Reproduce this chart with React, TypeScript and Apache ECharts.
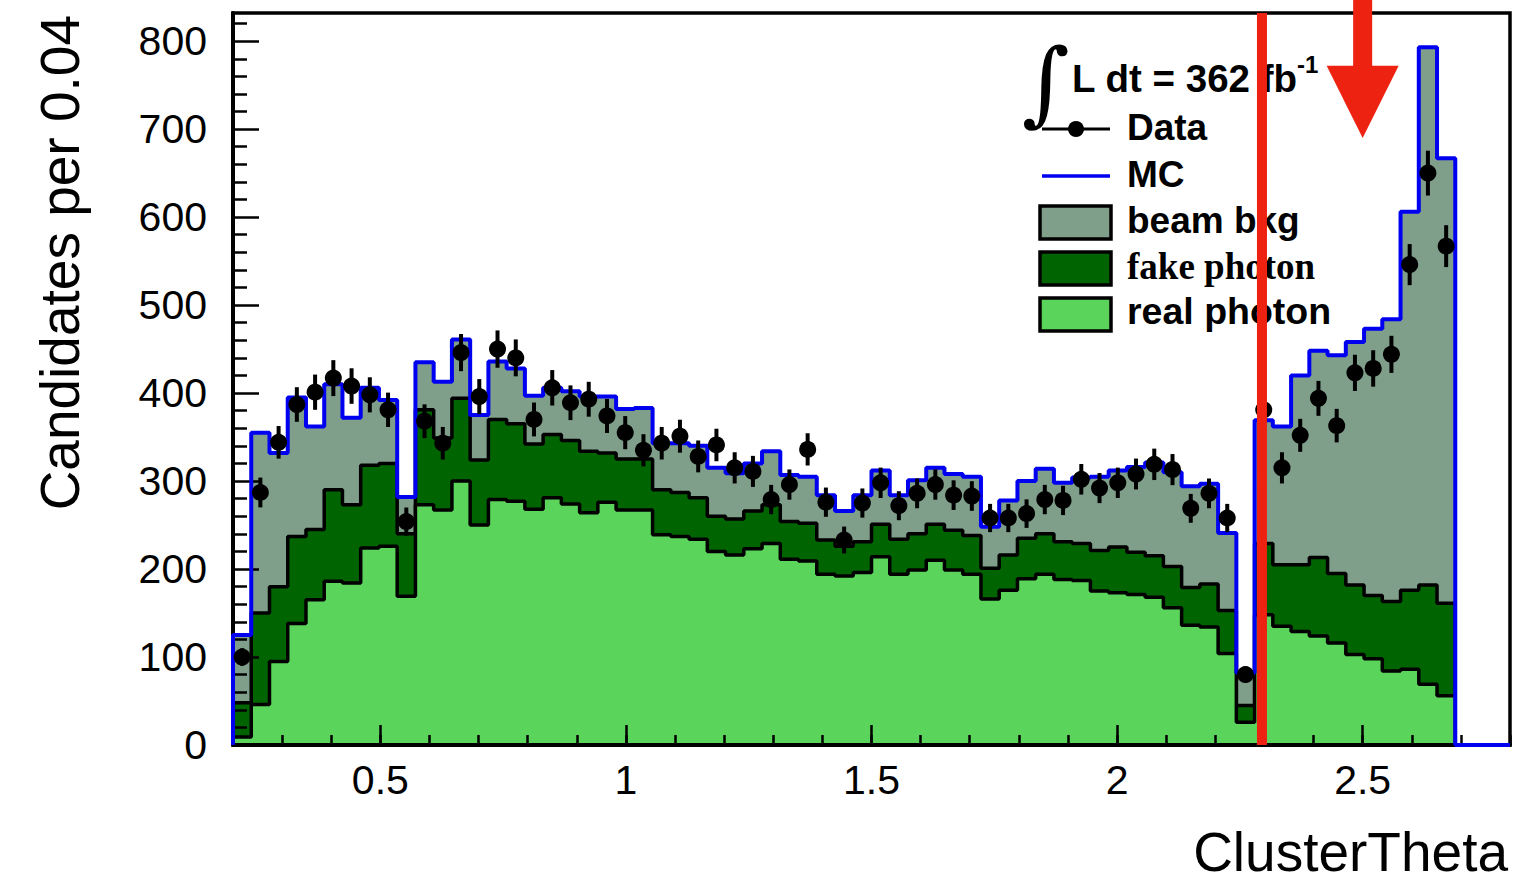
import React, { useEffect, useRef } from "react";
import * as echarts from "echarts";

// ---- histogram binning ----
const X_MIN = 0.2;
const X_MAX = 2.8;
const Y_MIN = 0;
const Y_MAX = 832;

// ---- MC components per bin (70 bins of 0.2..2.8) ----
const realPhoton = [
  9, 46, 95, 138, 165, 186, 184, 224, 226, 169,
  273, 267, 300, 250, 279, 277, 268, 281, 274, 264,
  276, 267, 267, 239, 237, 234, 220, 216, 223, 229,
  211, 209, 194, 192, 196, 214, 194, 199, 210, 199,
  194, 166, 176, 189, 194, 188, 187, 175, 173, 171,
  168, 156, 136, 134, 104, 26, 148, 135, 129, 124,
  116, 103, 98, 84, 86, 69, 56, 0, 0, 0,
];
const fakePhoton = [
  39, 104, 85, 99, 80, 104, 89, 94, 94, 71,
  108, 82, 94, 74, 91, 88, 74, 72, 72, 70,
  56, 58, 58, 51, 50, 47, 40, 41, 43, 44,
  43, 43, 39, 34, 35, 37, 40, 41, 41, 45,
  44, 35, 40, 46, 46, 43, 42, 46, 52, 48,
  47, 47, 43, 49, 49, 19, 81, 70, 76, 89,
  79, 79, 72, 79, 90, 113, 105, 0, 0, 0,
];
const beamBkg = [
  77, 205, 152, 158, 117, 120, 99, 88, 72, 42,
  54, 64, 67, 51, 66, 63, 55, 53, 56, 62,
  64, 57, 58, 53, 56, 59, 55, 52, 54, 61,
  53, 53, 51, 40, 53, 61, 50, 61, 64, 64,
  67, 47, 62, 65, 74, 67, 75, 84, 87, 97,
  106, 107, 115, 114, 88, 37, 140, 157, 215, 235,
  248, 276, 303, 321, 430, 611, 506, 0, 0, 0,
];
// ---- data counts (first 67 bins) ----
const dataCounts = [
  100, 287, 344, 387, 401, 417, 408, 398, 381, 254,
  368, 343, 446, 396, 450, 440, 370, 406, 389, 393,
  374, 355, 335, 343, 351, 328, 341, 315, 311, 279,
  296, 336, 276, 233, 275, 298, 272, 286, 296, 284,
  283, 258, 258, 263, 279, 278, 302, 292, 298, 308,
  319, 313, 269, 286, 258, 80, 381, 315, 352, 394,
  363, 423, 428, 444, 546, 650, 567,
];

// ---- ticks ----
const xMajorTicks = [0.5, 1, 1.5, 2, 2.5];
const xMinorTicks = [
  0.3, 0.4, 0.5, 0.6, 0.7, 0.8, 0.9, 1.0, 1.1, 1.2, 1.3, 1.4, 1.5,
  1.6, 1.7, 1.8, 1.9, 2.0, 2.1, 2.2, 2.3, 2.4, 2.5, 2.6, 2.7, 2.8,
];
const yMajorTicks = [0, 100, 200, 300, 400, 500, 600, 700, 800];
const yMinorTicks = [
  20, 40, 60, 80, 120, 140, 160, 180, 220, 240, 260, 280, 320, 340, 360, 380,
  420, 440, 460, 480, 520, 540, 560, 580, 620, 640, 660, 680, 720, 740, 760,
  780, 820,
];

// ---- annotations ----
const CUT_VALUE = 2.295;
const ARROW_X = 2.5;
const ARROW_TIP = 690;
const ARROW_HEAD_TOP = 772;
const ARROW_SHAFT_TOP = 860;

const X_TITLE = "ClusterTheta";
const Y_TITLE = "Candidates per 0.04";
const LUMI_TEXT = "L dt = 362 fb";
const LUMI_EXP = "-1";
const LEGEND_LABELS = ["Data", "MC", "beam bkg", "fake photon", "real photon"];

// ---- colours ----
const C_BEAM = "#809f8b";
const C_FAKE = "#006400";
const C_REAL = "#5ad45a";
const C_MC = "#0000f0";
const C_RED = "#ee2211";

function stepPoints(values: number[]): number[][] {
  const w = (X_MAX - X_MIN) / values.length;
  const pts: number[][] = [[X_MIN, 0]];
  values.forEach((v, i) => {
    pts.push([X_MIN + i * w, v]);
    pts.push([X_MIN + (i + 1) * w, v]);
  });
  pts.push([X_MAX, 0]);
  return pts;
}

const SANS = '"Liberation Sans", Arial, Helvetica, sans-serif';
const SERIF = '"Liberation Serif", "Times New Roman", serif';

function txt(
  x: number,
  y: number,
  text: string,
  size: number,
  family: string,
  weight: string,
  align: string,
  extra: any = {}
) {
  return {
    type: "text",
    x,
    y,
    z: 5,
    ...extra,
    style: {
      text,
      fill: "#000",
      fontSize: size,
      fontFamily: family,
      fontWeight: weight,
      textAlign: align,
      align,
      textVerticalAlign: "middle",
      verticalAlign: "middle",
    },
  };
}

export default function App() {
  const ref = useRef<HTMLDivElement>(null);

  useEffect(() => {
    if (!ref.current) return;
    const chart = echarts.init(ref.current, undefined, { renderer: "svg" });

    const n = realPhoton.length;
    const w = (X_MAX - X_MIN) / n;
    const fakeTop = realPhoton.map((v, i) => v + fakePhoton[i]);
    const total = fakeTop.map((v, i) => v + beamBkg[i]);
    const dataPts = dataCounts.map((v, i) => [X_MIN + (i + 0.5) * w, v]);

    const axisCommonX = {
      type: "value",
      min: X_MIN,
      max: X_MAX,
      position: "bottom",
      z: 30,
      splitLine: { show: false },
    };
    const axisCommonY = {
      type: "value",
      min: Y_MIN,
      max: Y_MAX,
      position: "left",
      z: 30,
      splitLine: { show: false },
    };

    const boxX = 1040;
    const boxW = 71;
    const boxH = 33;
    const textX = 1127;

    const option: any = {
      animation: false,
      backgroundColor: "#fff",
      textStyle: { fontFamily: SANS },
      grid: {
        left: 233,
        right: 7,
        top: 13,
        bottom: 137,
        show: true,
        borderColor: "#000",
        borderWidth: 3.5,
        backgroundColor: "transparent",
      },
      xAxis: [
        {
          ...axisCommonX,
          axisLine: { show: true, lineStyle: { color: "#000", width: 4 } },
          axisTick: {
            show: true,
            inside: true,
            length: 20,
            customValues: xMajorTicks,
            lineStyle: { color: "#000", width: 2.5 },
          },
          axisLabel: {
            show: true,
            customValues: xMajorTicks,
            fontSize: 41,
            color: "#000",
            margin: 14,
            fontFamily: SANS,
          },
        },
        {
          ...axisCommonX,
          axisLine: { show: false },
          axisTick: {
            show: true,
            inside: true,
            length: 10,
            customValues: xMinorTicks,
            lineStyle: { color: "#000", width: 2.5 },
          },
          axisLabel: { show: false },
        },
      ],
      yAxis: [
        {
          ...axisCommonY,
          axisLine: { show: true, lineStyle: { color: "#000", width: 4 } },
          axisTick: {
            show: true,
            inside: true,
            length: 26,
            customValues: yMajorTicks,
            lineStyle: { color: "#000", width: 2.5 },
          },
          axisLabel: {
            show: true,
            customValues: yMajorTicks,
            fontSize: 41,
            color: "#000",
            margin: 26,
            fontFamily: SANS,
          },
        },
        {
          ...axisCommonY,
          axisLine: { show: false },
          axisTick: {
            show: true,
            inside: true,
            length: 14,
            customValues: yMinorTicks,
            lineStyle: { color: "#000", width: 2.5 },
          },
          axisLabel: { show: false },
        },
      ],
      series: [
        {
          name: "beam bkg",
          type: "line",
          data: stepPoints(total),
          symbol: "none",
          silent: true,
          z: 2,
          lineStyle: { width: 0, opacity: 0 },
          areaStyle: { color: C_BEAM, opacity: 1 },
        },
        {
          name: "fake photon",
          type: "line",
          data: stepPoints(fakeTop),
          symbol: "none",
          silent: true,
          z: 3,
          lineStyle: { width: 3.5, color: "#000" },
          areaStyle: { color: C_FAKE, opacity: 1 },
        },
        {
          name: "real photon",
          type: "line",
          data: stepPoints(realPhoton),
          symbol: "none",
          silent: true,
          z: 4,
          lineStyle: { width: 3.5, color: "#000" },
          areaStyle: { color: C_REAL, opacity: 1 },
        },
        {
          name: "MC",
          type: "line",
          data: stepPoints(total),
          symbol: "none",
          silent: true,
          z: 35,
          lineStyle: { width: 4, color: C_MC },
        },
        {
          name: "Data",
          type: "custom",
          data: dataPts,
          z: 40,
          silent: true,
          renderItem: (_p: any, api: any) => {
            const x = api.value(0);
            const y = api.value(1);
            const err = Math.sqrt(y);
            const c = api.coord([x, y]);
            const lo = api.coord([x, y - err]);
            const hi = api.coord([x, y + err]);
            return {
              type: "group",
              children: [
                {
                  type: "line",
                  shape: { x1: c[0], y1: lo[1], x2: c[0], y2: hi[1] },
                  style: { stroke: "#000", lineWidth: 4 },
                },
                {
                  type: "circle",
                  shape: { cx: c[0], cy: c[1], r: 8.5 },
                  style: { fill: "#000" },
                },
              ],
            };
          },
        },
        {
          name: "cut",
          type: "custom",
          data: [[CUT_VALUE, 0]],
          z: 50,
          silent: true,
          clip: false,
          renderItem: (_p: any, api: any) => {
            const base = api.coord([CUT_VALUE, Y_MIN]);
            const top = api.coord([CUT_VALUE, Y_MAX]);
            const tip = api.coord([ARROW_X, ARROW_TIP]);
            const head = api.coord([ARROW_X, ARROW_HEAD_TOP]);
            const shaft = api.coord([ARROW_X, ARROW_SHAFT_TOP]);
            return {
              type: "group",
              children: [
                {
                  type: "rect",
                  shape: { x: base[0] - 5, y: top[1], width: 10, height: base[1] - top[1] },
                  style: { fill: C_RED },
                },
                {
                  type: "rect",
                  shape: { x: head[0] - 9.5, y: shaft[1], width: 19, height: head[1] - shaft[1] + 1 },
                  style: { fill: C_RED },
                },
                {
                  type: "polygon",
                  shape: {
                    points: [
                      [head[0] - 36, head[1]],
                      [head[0] + 36, head[1]],
                      [tip[0], tip[1]],
                    ],
                  },
                  style: { fill: C_RED },
                },
              ],
            };
          },
        },
      ],
      graphic: [
        txt(1508, 852, X_TITLE, 55, SANS, "normal", "right"),
        txt(60, 15, Y_TITLE, 55, SANS, "normal", "right", { rotation: Math.PI / 2 }),
        // luminosity
        txt(1046, 82, "\u222B", 92, '"DejaVu Serif", serif', "normal", "center"),
        txt(1072, 78, LUMI_TEXT, 38.5, SANS, "bold", "left"),
        txt(1297, 64, LUMI_EXP, 24, SANS, "bold", "left"),
        // Data
        {
          type: "line",
          z: 5,
          shape: { x1: 1042, y1: 129, x2: 1110, y2: 129 },
          style: { stroke: "#000", lineWidth: 3 },
        },
        { type: "circle", z: 5, shape: { cx: 1076, cy: 129, r: 8 }, style: { fill: "#000" } },
        txt(textX, 127, LEGEND_LABELS[0], 37, SANS, "bold", "left"),
        // MC
        {
          type: "line",
          z: 5,
          shape: { x1: 1042, y1: 176, x2: 1110, y2: 176 },
          style: { stroke: C_MC, lineWidth: 3.5 },
        },
        txt(textX, 174, LEGEND_LABELS[1], 37, SANS, "bold", "left"),
        // beam bkg
        {
          type: "rect",
          z: 5,
          shape: { x: boxX, y: 206, width: boxW, height: boxH },
          style: { fill: C_BEAM, stroke: "#000", lineWidth: 3.5 },
        },
        txt(textX, 220, LEGEND_LABELS[2], 37, SANS, "bold", "left"),
        // fake photon
        {
          type: "rect",
          z: 5,
          shape: { x: boxX, y: 252, width: boxW, height: boxH },
          style: { fill: C_FAKE, stroke: "#000", lineWidth: 3.5 },
        },
        txt(textX, 266, LEGEND_LABELS[3], 37, SERIF, "bold", "left"),
        // real photon
        {
          type: "rect",
          z: 5,
          shape: { x: boxX, y: 298, width: boxW, height: boxH },
          style: { fill: C_REAL, stroke: "#000", lineWidth: 3.5 },
        },
        txt(textX, 311, LEGEND_LABELS[4], 37.5, SANS, "bold", "left"),
      ],
    };

    chart.setOption(option);
    return () => chart.dispose();
  }, []);

  return (
    <div
      ref={ref}
      style={{ position: "fixed", left: 0, top: 0, width: 1517, height: 882, background: "#fff" }}
    />
  );
}
